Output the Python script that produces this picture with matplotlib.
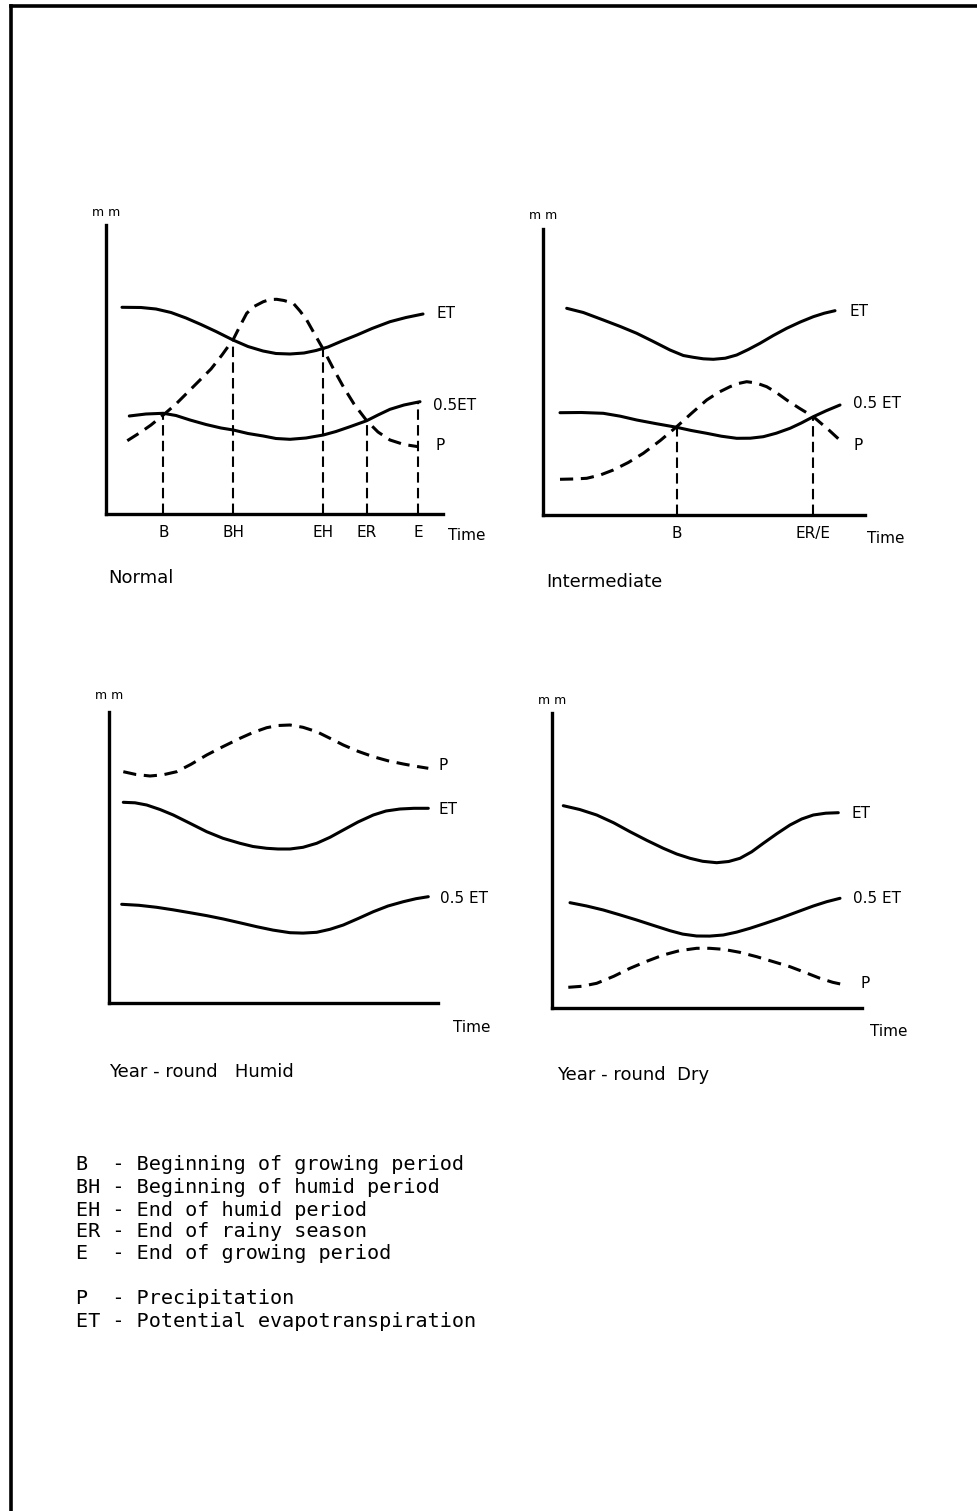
import matplotlib
matplotlib.use("Agg")
import matplotlib.pyplot as plt
from matplotlib.lines import Line2D

W, H = 977, 1511

# ---- Normal ----
normal_et_x = [16, 35, 50, 65, 80, 95, 110, 127, 142, 157, 170, 184, 198, 210, 222, 236, 251, 266, 284, 300, 317]
normal_et_y = [206.7, 206.5, 205, 201.5, 196, 189.5, 182.5, 174, 167.5, 163, 160.5, 160, 161, 163.5, 167, 173,
               179, 185.5, 192.3, 196.5, 200]
normal_half_x = [23.3, 40, 57.3, 70, 84, 100, 115, 127.3, 142, 157.3, 170, 184, 200, 217.3, 230, 244, 260.7,
                 272, 284, 298, 314]
normal_half_y = [98, 100, 100.7, 98.5, 94, 89.5, 86, 84, 80.5, 78, 75.5, 74.7, 76, 79, 82.5, 87.3, 93.3,
                 99, 104.7, 109, 112.3]
normal_p_x = [21.3, 35, 45, 57.3, 70, 82, 94, 105, 116, 127.3, 134, 140.7, 148, 157.3, 164, 170.7, 178, 187.3,
              194, 200.7, 208, 217.3, 227, 237.3, 248, 260.7, 272, 284, 298, 312.3]
normal_p_y = [73.3, 82, 89, 99, 110, 122, 134, 145, 159, 174.7, 188, 200.7, 207.5, 212.3, 214.5, 214.7, 213.5,
              210.7, 203, 194, 181, 164.7, 146, 127.3, 110, 93.3, 82, 74, 69.5, 67.3]
normal_marks = ["B", "BH", "EH", "ER", "E"]
normal_mark_x = [57.3, 127.3, 217.3, 260.7, 312.3]
normal_mark_top = [99, 174.7, 164.7, 93.3, 112.3]

# ---- Intermediate ----
inter_et_x = [23.4, 40, 60, 77, 93.4, 110, 126.7, 140, 150, 160, 170, 182, 193.4, 205, 216.7, 230, 243.4,
              257, 270, 281, 291.7]
inter_et_y = [206.7, 202.5, 195, 188.5, 181.7, 173.5, 165, 159.5, 157.7, 156.2, 155.7, 156.8, 160, 165.5,
              171.7, 179.5, 186.7, 193, 198.3, 201.8, 204.3]
inter_half_x = [16.7, 38, 60, 77, 93.4, 113, 133.4, 148, 163.4, 178, 193.4, 207, 220, 233, 246.7, 258, 270,
                283, 296.7]
inter_half_y = [102.3, 102.5, 101.7, 98.8, 95, 91.3, 87.7, 84.5, 81.7, 78.8, 76.7, 76.8, 78.3, 81.8, 86.7,
                92, 98.3, 104.3, 110]
inter_p_x = [16.7, 30, 43.4, 57, 70, 85, 100, 117, 133.4, 148, 163.4, 175, 186.7, 195, 203.4, 213, 223.4,
             233, 243.4, 256, 270, 285, 300]
inter_p_y = [35.7, 36, 36.7, 40, 45, 52.5, 61.7, 74.5, 88.3, 101.5, 115, 122.5, 128.3, 131.5, 133.3, 132,
             128.3, 122.5, 115, 106.8, 98.3, 85.5, 71.7]
inter_marks = ["B", "ER/E"]
inter_mark_x = [133.4, 270]
inter_mark_top = [88.3, 98.3]

# ---- Year-round Humid ----
humid_p_x = [14.3, 27, 41, 54, 67.7, 82, 97.7, 114, 131, 144, 157.7, 169, 181, 194, 207.7, 221, 234.3, 249,
             264.3, 279, 294.3, 307, 319.3]
humid_p_y = [231.6, 228.8, 227.3, 228.5, 231.6, 239, 248.3, 256.7, 265, 270.8, 275.6, 277.8, 278.3, 276,
             271.6, 265, 258.3, 252, 246.6, 242.5, 239.3, 237, 235]
humid_et_x = [14.3, 26, 37.7, 51, 64.3, 81, 97.7, 114, 131, 144, 157.7, 169, 181, 194, 207.7, 221, 234.3,
              249, 264.3, 277, 291, 305, 319.3]
humid_et_y = [201, 200.5, 198.3, 193.8, 188.3, 180, 171.6, 165, 160, 156.8, 155, 154.3, 154.3, 156, 160, 166,
              173.3, 181.3, 188.3, 192.3, 194.3, 195, 195]
humid_half_x = [12.7, 30, 47.7, 64, 81, 98, 114.3, 131, 147.7, 164, 181, 194, 207.7, 221, 234.3, 249, 264.3,
                279, 294.3, 307, 319.3]
humid_half_y = [99, 98, 96, 93.5, 90.6, 87.6, 84.3, 80.5, 76.6, 73.2, 70.6, 70.2, 71, 74, 78.3, 84.7, 91.6,
                97.3, 101.6, 104.6, 106.6]

# ---- Year-round Dry ----
dry_et_x = [11.6, 28, 45, 62, 78.3, 95, 111.6, 125, 138.3, 151, 165, 177, 188.3, 200, 211.6, 225, 238.3, 250,
            261.6, 274, 286.6]
dry_et_y = [202.6, 198.8, 193.3, 185.5, 176.6, 168, 160, 154.3, 150, 147, 145.6, 146.8, 150, 156.5, 165,
            174.5, 183.3, 189.3, 193.3, 195.1, 195.6]
dry_half_x = [18.3, 35, 51.6, 68, 85, 102, 118.3, 131, 145, 158, 171.6, 185, 198.3, 213, 228.3, 245, 261.6,
              275, 288.3]
dry_half_y = [105.6, 102.3, 98.3, 93.5, 88.3, 82.8, 77.6, 74.2, 72.3, 72.2, 73.3, 76.2, 80, 84.8, 90, 96.2,
              102.3, 106.6, 110]
dry_p_x = [16.6, 30, 45, 62, 78.3, 95, 111.6, 128, 145, 158, 171.6, 188, 205, 222, 238.3, 253, 268.3, 281,
           293.3]
dry_p_y = [21, 22, 25, 32, 40, 47, 53.3, 57.7, 60, 60, 59, 56, 51.6, 46.5, 41.6, 36, 30, 26, 23.3]

legend_lines = [
    "B  - Beginning of growing period",
    "BH - Beginning of humid period",
    "EH - End of humid period",
    "ER - End of rainy season",
    "E  - End of growing period",
    "P  - Precipitation",
    "ET - Potential evapotranspiration",
]
legend_y = [1164, 1187.7, 1210, 1231.7, 1253.3, 1298.3, 1321.7]

SOLID = dict(color="black", lw=2.2, solid_capstyle="round", solid_joinstyle="round")
DASHED = dict(color="black", lw=2.2, linestyle=(0, (9.5, 5.5)), dash_capstyle="butt",
              dash_joinstyle="round")
DROP = dict(colors="black", lw=1.5, linestyles=[(0, (7.5, 3.8))])
FS = 11


def make_axes(fig, ox, oy, width, height):
    ax = fig.add_axes([ox / W, (H - oy) / H, width / W, height / H])
    ax.set_xlim(0, width)
    ax.set_ylim(0, height)
    for s in ["top", "right"]:
        ax.spines[s].set_visible(False)
    for s in ["left", "bottom"]:
        ax.spines[s].set_linewidth(2.4)
        ax.spines[s].set_capstyle("projecting")
    ax.set_yticks([])
    ax.set_xticks([])
    ax.tick_params(length=0, pad=8, labelsize=FS)
    ax.patch.set_alpha(0)
    return ax


def labels(ax, items, time_xy, title_xy, title, mm_y):
    for txt, x, y in items:
        ax.text(x, y, txt, fontsize=FS, ha="left", va="center", clip_on=False)
    ax.text(time_xy[0], time_xy[1], "Time", fontsize=FS, ha="left", va="center", clip_on=False)
    ax.text(title_xy[0], title_xy[1], title, fontsize=13, ha="left", va="center", clip_on=False)
    ax.text(0, mm_y, "m m", fontsize=9, ha="center", va="center", clip_on=False)


plt.rcParams["lines.scale_dashes"] = False
plt.rcParams["font.family"] = "DejaVu Sans"

fig = plt.figure(figsize=(W / 100, H / 100), dpi=100)

# page frame (left and top edges only)
fig.add_artist(Line2D([11 / W, 11 / W], [0, 1 - 6 / H], color="black", lw=2.6,
                      transform=fig.transFigure, solid_capstyle="projecting"))
fig.add_artist(Line2D([11 / W, 1], [1 - 6 / H, 1 - 6 / H], color="black", lw=2.6,
                      transform=fig.transFigure, solid_capstyle="projecting"))

# Normal
ax1 = make_axes(fig, 106, 514, 337, 289)
ax1.plot(normal_et_x, normal_et_y, **SOLID)
ax1.plot(normal_half_x, normal_half_y, **SOLID)
ax1.plot(normal_p_x, normal_p_y, **DASHED)
ax1.vlines(normal_mark_x, 0, normal_mark_top, **DROP)
ax1.set_xticks(normal_mark_x, normal_marks)
labels(ax1, [("ET", 330.7, 200), ("0.5ET", 327.3, 109), ("P", 329, 69)],
       (342.3, -21), (2.3, -64.3), "Normal", 302)

# Intermediate
ax2 = make_axes(fig, 543.3, 515, 321.7, 285.7)
ax2.plot(inter_et_x, inter_et_y, **SOLID)
ax2.plot(inter_half_x, inter_half_y, **SOLID)
ax2.plot(inter_p_x, inter_p_y, **DASHED)
ax2.vlines(inter_mark_x, 0, inter_mark_top, **DROP)
ax2.set_xticks(inter_mark_x, inter_marks)
labels(ax2, [("ET", 306.7, 203.3), ("0.5 ET", 310, 111.7), ("P", 310, 70)],
       (323.3, -23.3), (3.4, -66.7), "Intermediate", 300)

# Year-round Humid
ax3 = make_axes(fig, 109, 1003.3, 329.3, 291.6)
ax3.plot(humid_p_x, humid_p_y, **DASHED)
ax3.plot(humid_et_x, humid_et_y, **SOLID)
ax3.plot(humid_half_x, humid_half_y, **SOLID)
labels(ax3, [("P", 329.3, 238.3), ("ET", 329.3, 193.3), ("0.5 ET", 331, 105)],
       (344, -24.7), (0, -68.4), "Year - round   Humid", 308)

# Year-round Dry
ax4 = make_axes(fig, 551.7, 1008.3, 310, 295)
ax4.plot(dry_et_x, dry_et_y, **SOLID)
ax4.plot(dry_half_x, dry_half_y, **SOLID)
ax4.plot(dry_p_x, dry_p_y, **DASHED)
labels(ax4, [("ET", 300, 195), ("0.5 ET", 301.6, 110), ("P", 308.3, 24.3)],
       (318.3, -23.4), (5, -66.7), "Year - round  Dry", 308)

# key
for line, y in zip(legend_lines, legend_y):
    fig.text(76 / W, 1 - y / H, line, fontsize=14.5, family="DejaVu Sans Mono",
             ha="left", va="center")

fig.savefig("out.png", dpi=100, facecolor="white")
